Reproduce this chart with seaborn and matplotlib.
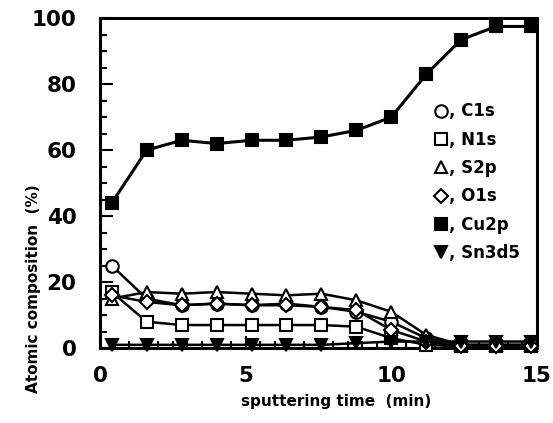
import matplotlib
matplotlib.use("Agg")
import matplotlib.pyplot as plt
from matplotlib.lines import Line2D
from matplotlib.ticker import MultipleLocator
import pandas as pd
import seaborn as sns

# Sputtering depth profile: atomic composition vs. sputtering time
time_min = [0.4, 1.6, 2.8, 4.0, 5.2, 6.4, 7.6, 8.8, 10.0, 11.2, 12.4, 13.6, 14.8]
c1s = [25, 15, 13, 13.5, 13, 13.5, 12.5, 11, 8, 3, 1, 1, 1]
n1s = [17, 8, 7, 7, 7, 7, 7, 6.5, 3, 1, 0.5, 0.5, 0.5]
s2p = [15, 17, 16.5, 17, 16.5, 16, 16.5, 14.5, 11, 4, 1, 1, 1]
o1s = [16, 14, 13, 13.5, 13, 13, 12.5, 11.5, 5.5, 2, 0.5, 0.5, 0.5]
cu2p = [44, 60, 63, 62, 63, 63, 64, 66, 70, 83, 93.5, 97.5, 97.5]
sn3d5 = [1, 1, 1, 1, 1, 1, 1, 1.5, 2, 2, 2, 2, 2]

series_names = ["C1s", "N1s", "S2p", "O1s", "Cu2p", "Sn3d5"]
series_values = [c1s, n1s, s2p, o1s, cu2p, sn3d5]

sns.set_theme(style="white")
plt.rcParams["font.family"] = ["DejaVu Sans"]
plt.rcParams["font.weight"] = "bold"

fig = plt.figure(figsize=(5.53, 4.23), dpi=100)
ax = fig.add_axes([0.181, 0.177, 0.790, 0.780])

styles = {
    "C1s": dict(marker="o", markerfacecolor="white", markersize=9),
    "N1s": dict(marker="s", markerfacecolor="white", markersize=9),
    "S2p": dict(marker="^", markerfacecolor="white", markersize=9),
    "O1s": dict(marker="D", markerfacecolor="white", markersize=7),
    "Cu2p": dict(marker="s", markerfacecolor="black", markersize=8.5),
    "Sn3d5": dict(marker="v", markerfacecolor="black", markersize=8),
}

frames = []
for name, vals in zip(series_names, series_values):
    frames.append(pd.DataFrame({"time": time_min, "value": vals, "element": name}))
df = pd.concat(frames, ignore_index=True)

for name in series_names:
    sub = df[df["element"] == name]
    sns.lineplot(data=sub, x="time", y="value", ax=ax, color="black",
                 linewidth=2.2 if name == "Cu2p" else 1.8,
                 markeredgecolor="black", markeredgewidth=1.5,
                 clip_on=False, zorder=3, **styles[name])

ax.set_xlim(0, 15)
ax.set_ylim(0, 100)
ax.xaxis.set_major_locator(MultipleLocator(5))
ax.xaxis.set_minor_locator(MultipleLocator(0.5))
ax.yaxis.set_major_locator(MultipleLocator(20))
ax.yaxis.set_minor_locator(MultipleLocator(5))
ax.tick_params(axis="both", which="both", direction="in", top=False, right=False,
               bottom=True, left=True, color="black", labelcolor="black")
ax.tick_params(axis="both", which="major", length=9, width=1.5, labelsize=15.5)
ax.tick_params(axis="x", which="major", pad=13)
ax.tick_params(axis="y", which="major", pad=17)
ax.tick_params(axis="both", which="minor", length=5, width=1.5)
for lbl in ax.get_xticklabels() + ax.get_yticklabels():
    lbl.set_fontweight("bold")

for side in ["left", "right", "top", "bottom"]:
    ax.spines[side].set_visible(True)
    ax.spines[side].set_color("black")
    ax.spines[side].set_linewidth(2.2)

ax.set_xlabel("sputtering time  (min)", fontsize=11, fontweight="bold",
              color="black")
ax.xaxis.set_label_coords(0.54, -0.14)
ax.set_ylabel("Atomic composition  (%)", fontsize=11, fontweight="bold",
              color="black")
ax.yaxis.set_label_coords(-0.135, 0.18)

handles = [Line2D([], [], linestyle="none", color="black", markeredgecolor="black",
                  markeredgewidth=1.5, **styles[n]) for n in series_names]
labels = [", " + n for n in series_names]
leg = ax.legend(handles, labels, loc="upper left", bbox_to_anchor=(0.75, 0.765),
                frameon=False, handlelength=0.8, handletextpad=0.1,
                labelspacing=0.62, borderaxespad=0,
                prop={"size": 12, "weight": "bold"})
for t in leg.get_texts():
    t.set_color("black")

fig.savefig("out.png", dpi=100, facecolor="white")
